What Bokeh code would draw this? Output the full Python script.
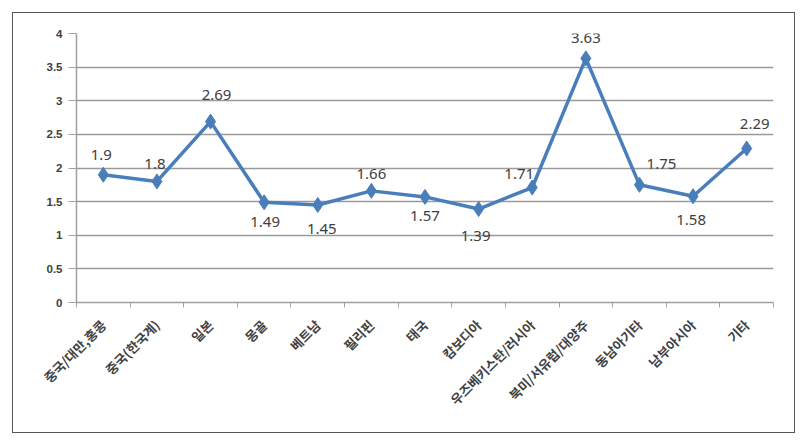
import math
from bokeh.plotting import figure
from bokeh.models import ColumnDataSource, FixedTicker, Range1d
from bokeh.core.properties import value
from bokeh.embed import file_html
from bokeh.resources import INLINE

categories = ["중국/대만,홍콩", "중국(한국계)", "일본", "몽골", "베트남", "필리핀", "태국",
              "캄보디아", "우즈베키스탄/러시아", "북미/서유럽/대양주", "동남아기타", "남부아시아", "기타"]
values = [1.9, 1.8, 2.69, 1.49, 1.45, 1.66, 1.57, 1.39, 1.71, 3.63, 1.75, 1.58, 2.29]
y_ticks = [0, 0.5, 1, 1.5, 2, 2.5, 3, 3.5, 4]

# label placement (styling)
label_dx = [-2, -2, 6, 1, 4, 0, 0, -3, -13, 0, 22, -2, 8]
label_dy = [-20, -17, -27, 20, 24, -17, 19, 27, -14, -20, -21, 24, -24]

xs = list(range(len(categories)))
src = ColumnDataSource(dict(x=xs, y=values, lab=[f"{v:g}" for v in values],
                            dx=label_dx, dy=label_dy))

p = figure(width=783, height=421, output_backend="svg", toolbar_location=None,
           x_range=Range1d(-0.5, len(categories) - 0.5), y_range=Range1d(0, 4),
           min_border_left=63, min_border_right=23, min_border_top=20, min_border_bottom=132)
p.margin = (12, 0, 0, 12)
p.styles = {"border": "1.5px solid #555555", "box-sizing": "border-box"}
p.outline_line_color = None
p.background_fill_color = "white"
p.border_fill_color = "white"

# grid
p.xgrid.grid_line_color = None
p.ygrid.ticker = FixedTicker(ticks=y_ticks)
p.ygrid.grid_line_color = "#9a9a9a"
p.ygrid.grid_line_width = 1.6

# y axis
p.yaxis.ticker = FixedTicker(ticks=y_ticks)
p.yaxis.axis_line_color = "#a0a0a0"
p.yaxis.axis_line_width = 1.5
p.yaxis.major_tick_line_color = "#a0a0a0"
p.yaxis.major_tick_out = 8
p.yaxis.major_tick_in = 0
p.yaxis.minor_tick_line_color = None
p.yaxis.major_label_text_font = "Liberation Sans"
p.yaxis.major_label_text_font_size = "11.5px"
p.yaxis.major_label_text_font_style = "bold"
p.yaxis.major_label_text_color = "#404040"
p.yaxis.major_label_standoff = 6
p.yaxis.major_label_overrides = {t: f"{t:g}" for t in y_ticks}

# x axis: labels at centers, tick marks at boundaries
bounds = [i - 0.5 for i in range(len(categories) + 1)]
p.xaxis.ticker = FixedTicker(ticks=xs, minor_ticks=bounds)
p.xaxis.major_label_overrides = {i: c for i, c in enumerate(categories)}
p.xaxis.major_tick_line_color = None
p.xaxis.minor_tick_line_color = "#a0a0a0"
p.xaxis.minor_tick_out = 5
p.xaxis.minor_tick_in = 0
p.xaxis.axis_line_color = "#a0a0a0"
p.xaxis.axis_line_width = 1.5
p.xaxis.major_label_orientation = math.pi / 4
p.xaxis.major_label_text_font = "Noto Sans CJK KR"
p.xaxis.major_label_text_font_size = "13px"
p.xaxis.major_label_text_font_style = "bold"
p.xaxis.major_label_text_color = "#404040"
p.xaxis.major_label_standoff = 14

# series
blue = "#4a7ebb"
p.line("x", "y", source=src, line_color=blue, line_width=3.5)
p.scatter("x", "y", source=src, marker="diamond", size=15, fill_color=blue, line_color=blue)
p.text("x", "y", text="lab", source=src, x_offset="dx", y_offset="dy",
       text_align="center", text_baseline="middle", text_font=value("Noto Sans"),
       text_font_size="15px", text_color="#404040")

open("out.html", "w").write(file_html(p, INLINE))
